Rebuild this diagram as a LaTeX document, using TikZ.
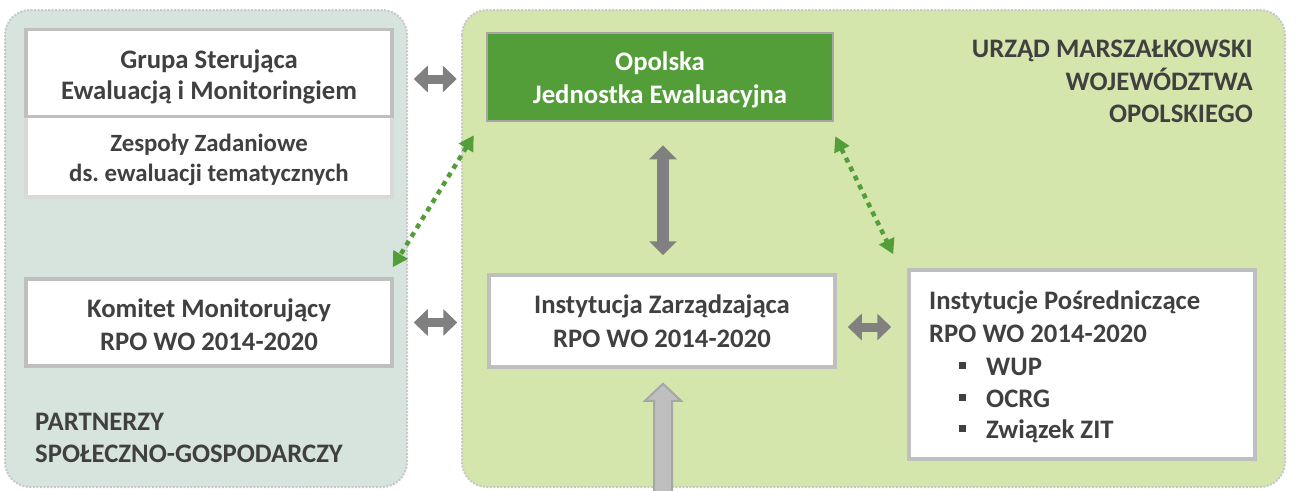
\documentclass[tikz,border=0pt]{standalone}
\usepackage{fontspec}
\setmainfont{Carlito}[BoldFont={Carlito Bold}]
\usetikzlibrary{arrows.meta,calc}
\frenchspacing
\definecolor{leftbg}{RGB}{215,227,221}
\definecolor{rightbg}{RGB}{213,230,173}
\definecolor{panelline}{RGB}{200,200,200}
\definecolor{boxgray}{RGB}{191,191,191}
\definecolor{boxlight}{RGB}{217,217,217}
\definecolor{greenbox}{RGB}{84,158,58}
\definecolor{greenline}{RGB}{166,166,166}
\definecolor{txtgray}{RGB}{64,64,64}
\definecolor{arrgray}{RGB}{128,128,128}
\definecolor{feedfill}{RGB}{191,191,191}
\definecolor{feedline}{RGB}{166,166,166}
\definecolor{dotgreen}{RGB}{84,158,58}
\tikzset{
  panel/.style={rounded corners=25pt, draw=panelline, line width=2pt, dash pattern=on 2pt off 1.5pt},
  box/.style={draw=boxgray, line width=3.5pt, fill=white, inner sep=0pt, rectangle},
  txt/.style={inner sep=0pt, anchor=base, text=txtgray, font=\bfseries\fontsize{26.7}{31}\selectfont},
  txtsmall/.style={txt, font=\bfseries\fontsize{24.8}{28}\selectfont},
  garrow/.style={draw=arrgray, line width=9pt, {Triangle[width=26pt,length=14pt]}-{Triangle[width=26pt,length=14pt]}},
  varrow/.style={draw=arrgray, line width=12pt, {Triangle[width=27pt,length=14pt]}-{Triangle[width=27pt,length=14pt]}},
  dotarrow/.style={draw=dotgreen, line width=4.5pt, dash pattern=on 5pt off 5pt, {Triangle[width=16pt,length=15pt]}-{Triangle[width=16pt,length=15pt]}},
}
\newcommand{\bul}{\makebox[0pt][r]{\raisebox{5.7pt}{\rule{7pt}{7pt}}\hspace{20pt}}}
\begin{document}
\begin{tikzpicture}[x=1pt,y=-1pt]
\useasboundingbox (0,0) rectangle (1297,490);
% panels
\fill[white] (0,0) rectangle (1297,490);
\filldraw[panel, fill=leftbg] (5,10) rectangle (407,487);
\filldraw[panel, fill=rightbg] (462,10) rectangle (1285,487);

% boxes
\node[box, draw=boxlight, minimum width=366pt, minimum height=80.5pt] (zesp) at (209,156.75) {};
\node[box, minimum width=366pt, minimum height=87pt] (grupa) at (209,73) {};
\node[box, minimum width=366pt, minimum height=87pt] (komitet) at (209,322.5) {};
\node[box, draw=greenline, line width=2.5pt, fill=greenbox, minimum width=346pt, minimum height=88pt] (opolska) at (660,77) {};
\node[box, minimum width=346pt, minimum height=92pt] (iz) at (662,321) {};
\node[box, minimum width=346pt, minimum height=189pt] (ip) at (1082,364.5) {};

% texts
\node[txt] (grupa-t1) at (209,68) {Grupa Sterująca};
\node[txt] (grupa-t2) at (209,99.5) {Ewaluacją i Monitoringiem};
\node[txtsmall] (zesp-t1) at (209,151.5) {Zespoły Zadaniowe};
\node[txtsmall] (zesp-t2) at (209,181) {ds. ewaluacji tematycznych};
\node[txt] (kom-t1) at (209,317.5) {Komitet Monitorujący};
\node[txt] (kom-t2) at (209,350) {RPO WO 2014-2020};
\node[txt, text=white] (op-t1) at (660,70) {Opolska};
\node[txt, text=white] (op-t2) at (660,103) {Jednostka Ewaluacyjna};
\node[txt] (iz-t1) at (662,313) {Instytucja Zarządzająca};
\node[txt] (iz-t2) at (662,347) {RPO WO 2014-2020};
\node[txt, anchor=base west] (ip-t1) at (929,309) {Instytucje Pośredniczące};
\node[txt, anchor=base west] (ip-t2) at (929,342) {RPO WO 2014-2020};
\node[txt, anchor=base west] (ip-t3) at (986,375) {\bul WUP};
\node[txt, anchor=base west] (ip-t4) at (986,407) {\bul OCRG};
\node[txt, anchor=base west] (ip-t5) at (986,438) {\bul Związek ZIT};
\node[txt, anchor=base east] (um-t1) at (1253,57) {URZĄD MARSZAŁKOWSKI};
\node[txt, anchor=base east] (um-t2) at (1253,90) {WOJEWÓDZTWA};
\node[txt, anchor=base east] (um-t3) at (1253,122) {OPOLSKIEGO};
\node[txt, anchor=base west] (pp-t1) at (35,430) {PARTNERZY};
\node[txt, anchor=base west] (pp-t2) at (35,462) {SPOŁECZNO-GOSPODARCZY};

% gray double arrows
\draw[garrow, shorten <=20pt, shorten >=29pt] ([yshift=-6pt]grupa.east) -- ([yshift=-6pt]grupa.east -| opolska.west);
\draw[garrow, shorten <=20pt, shorten >=30pt] (komitet.east) -- (komitet.east -| iz.west);
\draw[garrow, shorten <=11pt, shorten >=16pt] ([yshift=-6pt]iz.east) -- ([yshift=-6pt]iz.east -| ip.west);
\draw[varrow, shorten <=23pt, shorten >=18pt] ([xshift=3pt]opolska.south) -- ([xshift=3pt]opolska.south |- iz.north);

% green dotted arrows
\coordinate (gl1) at ($(opolska.south west)+(-12,13)$);
\coordinate (gl2) at ($(komitet.north east)+(-1,-10)$);
\coordinate (gr1) at ($(opolska.south east)+(1,14)$);
\coordinate (gr2) at ($(ip.north west)+(-14,-14)$);
\draw[dotarrow] (gl1) -- (gl2);
\draw[dotarrow] (gr1) -- (gr2);

% incoming arrow from below
\coordinate (feed) at (663,492);
\coordinate (feedtip) at ($(iz.south)+(1,15)$);
\draw[line width=2pt, draw=feedline, fill=feedfill, line join=miter]
  ($(feed)+(-9,0)$) -- ($(feedtip)+(-9,17)$) -- ($(feedtip)+(-18,17)$) -- (feedtip)
  -- ($(feedtip)+(18,17)$) -- ($(feedtip)+(9,17)$) -- ($(feed)+(9,0)$);
\end{tikzpicture}
\end{document}
